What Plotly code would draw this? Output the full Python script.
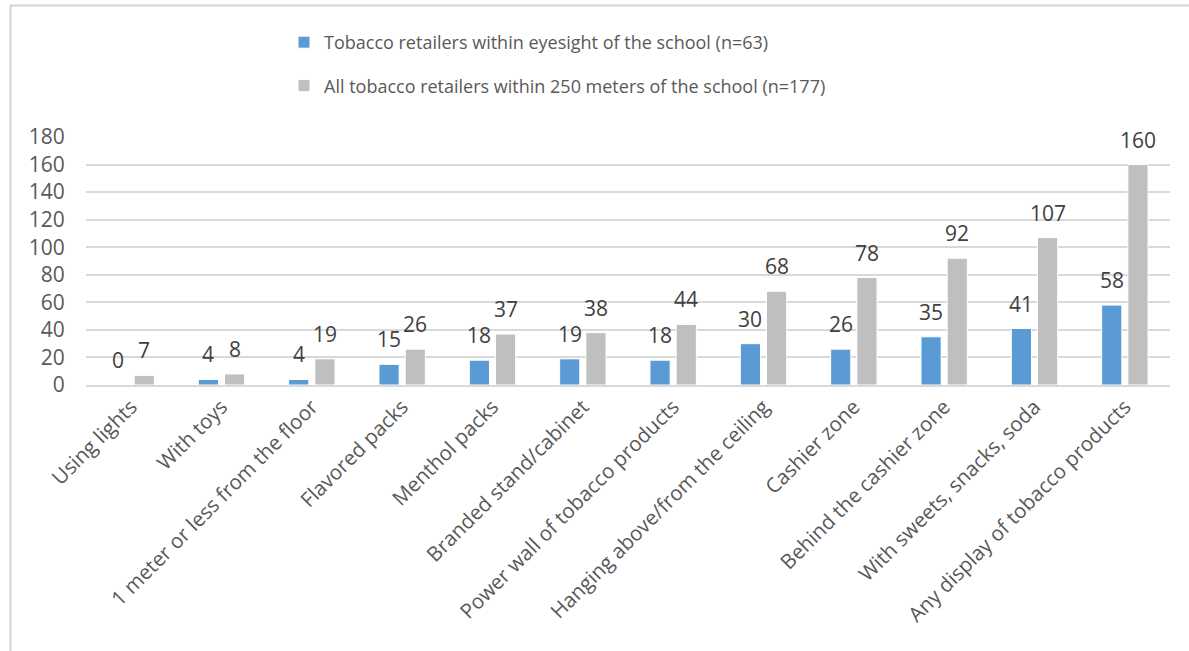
import plotly.graph_objects as go

categories = ["Using lights", "With toys", "1 meter or less from the floor", "Flavored packs",
              "Menthol packs", "Branded stand/cabinet", "Power wall of tobacco products",
              "Hanging above/from the ceiling", "Cashier zone", "Behind the cashier zone",
              "With sweets, snacks, soda", "Any display of tobacco products"]
eyesight = [0, 4, 4, 15, 18, 19, 18, 30, 26, 35, 41, 58]
within250 = [7, 8, 19, 26, 37, 38, 44, 68, 78, 92, 107, 160]
series_names = ["Tobacco retailers within eyesight of the school (n=63)",
                "All tobacco retailers within 250 meters of the school (n=177)"]
y_ticks = list(range(0, 181, 20))

FONT = "Open Sans"
W, H = 1189, 651
L, R, T, B = 86, 19, 137, 266
pw, ph = W - L - R, H - T - B
BARGAP, GROUPGAP = 0.42, 0.23
slot_px = pw / len(categories) * (1 - BARGAP) / 2

fig = go.Figure()
for i, (vals, name, color, grp) in enumerate([(eyesight, series_names[0], "#5b9bd5", "a"),
                                              (within250, series_names[1], "#bfbfbf", "b")]):
    fig.add_trace(go.Bar(x=categories, y=vals, name=name,
                         marker=dict(color=color, line=dict(color="white", width=1)),
                         legendgroup=grp))
    off = (i - 0.5) * slot_px
    for c, v in zip(categories, vals):
        fig.add_annotation(x=c, y=v, text=str(v), showarrow=False, xshift=off, yshift=9,
                           yanchor="bottom", xanchor="center",
                           font=dict(size=21, color="#404040", family=FONT))

def px(xp):
    return (xp - L) / pw

def py(yp):
    return (H - B - yp) / ph

frame = dict(color="#d4d4d4", width=2)
fig.add_shape(type="line", xref="paper", yref="paper", x0=px(10), x1=px(1200),
              y0=py(5.5), y1=py(5.5), line=frame, layer="above")
fig.add_shape(type="line", xref="paper", yref="paper", x0=px(10.5), x1=px(10.5),
              y0=py(5.5), y1=py(700), line=frame, layer="above")

fig.update_layout(
    width=W, height=H,
    margin=dict(l=L, r=R, t=T, b=B, autoexpand=False),
    paper_bgcolor="white", plot_bgcolor="white",
    barmode="group", bargap=BARGAP, bargroupgap=GROUPGAP,
    font=dict(family=FONT, color="#595959", size=18),
    legend=dict(orientation="v", x=px(284), y=py(24), xanchor="left", yanchor="top",
                font=dict(size=18, color="#595959", family=FONT),
                tracegroupgap=17, traceorder="grouped", itemwidth=30,
                bgcolor="rgba(0,0,0,0)"),
    showlegend=True,
)
fig.update_xaxes(tickangle=-45, tickfont=dict(size=20.5, color="#595959"),
                 showline=True, linecolor="#d9d9d9", linewidth=1.5, ticks="",
                 automargin=False)
fig.update_yaxes(range=[0, 180], tickvals=y_ticks, showgrid=True, gridcolor="#d9d9d9",
                 gridwidth=1.5, zeroline=False, showline=False,
                 ticks="outside", ticklen=16, tickcolor="rgba(0,0,0,0)",
                 tickfont=dict(size=21, color="#595959"), automargin=False)

fig.write_html("out.html")
